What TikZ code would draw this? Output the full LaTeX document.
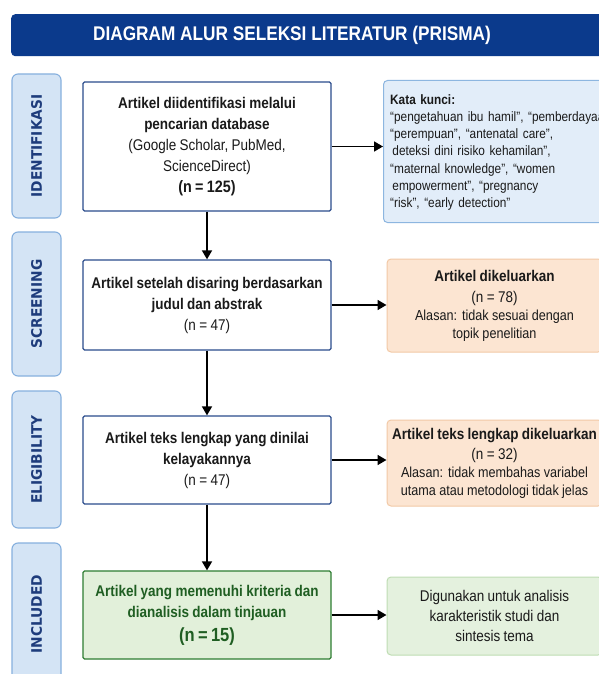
\documentclass[tikz,border=0pt]{standalone}
\usepackage{fontspec}
\setmainfont{Liberation Sans}[FakeStretch=0.87]
\newfontfamily\labelfont{DejaVu Sans}[UprightFont={* Bold}, FakeStretch=0.95]
\usetikzlibrary{arrows.meta}
\definecolor{titleblue}{HTML}{0B3A8C}
\definecolor{lblfill}{HTML}{D4E4F5}
\definecolor{lbldraw}{HTML}{86B0DE}
\definecolor{lbltext}{HTML}{1E3C7C}
\definecolor{boxdraw}{HTML}{2B4C8C}
\definecolor{kwfill}{HTML}{E2EDF9}
\definecolor{kwdraw}{HTML}{8DB6E0}
\definecolor{exfill}{HTML}{FCE5D2}
\definecolor{exdraw}{HTML}{F2C9A6}
\definecolor{grfill}{HTML}{E2F0DA}
\definecolor{grdraw}{HTML}{2E7D32}
\definecolor{grtext}{HTML}{1F5E22}
\definecolor{usefill}{HTML}{E4F1DE}
\definecolor{usedraw}{HTML}{BFDDB3}
\definecolor{txt}{HTML}{1A1A1A}
\tikzset{
  phase/.style={draw=lbldraw, fill=lblfill, line width=1.1pt, rounded corners=6pt,
    rotate=90, minimum height=49pt, inner sep=0pt, text=lbltext,
    font=\labelfont\fontsize{14.5}{14.5}\selectfont},
  mainbox/.style={draw=boxdraw, fill=white, line width=1.3pt, rounded corners=1.5pt,
    minimum width=248pt, text width=244pt, inner sep=2pt, align=center, text=txt},
  sidebox/.style={line width=1pt, rounded corners=4pt, minimum width=215pt, text width=211pt,
    inner sep=2pt, align=center, text=txt},
  arr/.style={-{Triangle[length=9pt,width=10pt]}, line width=1.7pt, black},
}
\begin{document}
\begin{tikzpicture}[x=1pt,y=-1pt]
\useasboundingbox (0,0) rectangle (598,674);
\fill[white] (0,0) rectangle (598,674);
% title
\node (bar) [fill=titleblue, rounded corners=4pt, minimum width=600pt, minimum height=42pt,
  inner sep=0pt, anchor=north west] at (11,14) {};
\node (title) at (292,35.5) [text=white, font=\bfseries\fontsize{19.8}{20}\selectfont]
  {DIAGRAM ALUR SELEKSI LITERATUR (PRISMA)};
% phases
\node (p1) [phase, minimum width=144pt] at (36.5,146) {IDENTIFIKASI};
\node (p2) [phase, minimum width=144pt] at (36.5,304) {SCREENING};
\node (p3) [phase, minimum width=137pt] at (36.5,459.5) {ELIGIBILITY};
\node (p4) [phase, minimum width=142pt] at (36.5,614) {INCLUDED};
% main boxes
\node (b1) [mainbox, minimum height=129pt] at (207,146.5)
  {\fontsize{15.5}{21}\selectfont
   \textbf{Artikel diidentifikasi melalui}\\
   \textbf{pencarian database}\\
   (Google Scholar, PubMed,\\ ScienceDirect)\\
   {\bfseries\fontsize{16.5}{21}\selectfont (n = 125)}\par};
\node (b2) [mainbox, minimum height=90pt] at (207,305)
  {\fontsize{15.5}{21}\selectfont
   \textbf{Artikel setelah disaring berdasarkan}\\
   \textbf{judul dan abstrak}\\
   (n = 47)\par};
\node (b3) [mainbox, minimum height=88pt] at (207,460)
  {\fontsize{15.5}{21}\selectfont
   \textbf{Artikel teks lengkap yang dinilai}\\
   \textbf{kelayakannya}\\
   (n = 47)\par};
\node (b4) [mainbox, draw=grdraw, fill=grfill, text=grtext, minimum height=88pt] at (207,615)
  {\fontsize{15.5}{21}\selectfont
   \textbf{Artikel yang memenuhi kriteria dan}\\
   \textbf{dianalisis dalam tinjauan}\\[3pt]
   {\bfseries\fontsize{19}{21}\selectfont (n = 15)}\par};
% side boxes
\node (r1) [sidebox, draw=kwdraw, fill=kwfill, minimum width=230pt, minimum height=142pt,
  anchor=north west] at (383,80) {};
\node (kw) [anchor=north west, align=left, text width=260pt, inner sep=0pt, text=txt,
  font=\fontsize{13.6}{17.3}\selectfont] at (390,94)
  {\textbf{Kata kunci:}\\
   “pengetahuan ibu hamil”, “pemberdayaan\\
   “perempuan”, “antenatal care”,\\
   \,deteksi dini risiko kehamilan”,\\
   “maternal knowledge”, “women\\
   \,empowerment”, “pregnancy\\
   “risk”, “early detection”\par};
\node (r2) [sidebox, draw=exdraw, fill=exfill, minimum height=93pt] at (494.5,305.5)
  {\fontsize{15.5}{21}\selectfont
   \textbf{Artikel dikeluarkan}\\
   (n = 78)\\
   {\fontsize{14.5}{18}\selectfont Alasan: tidak sesuai dengan\\ topik penelitian\par}};
\node (r3) [sidebox, draw=exdraw, fill=exfill, minimum height=86pt] at (494.5,463)
  {\fontsize{15.5}{20}\selectfont
   \textbf{Artikel teks lengkap dikeluarkan}\\
   (n = 32)\\
   {\fontsize{14.5}{18}\selectfont Alasan: tidak membahas variabel\\ utama atau metodologi tidak jelas\par}};
\node (r4) [sidebox, draw=usedraw, fill=usefill, minimum height=78pt] at (494.5,616)
  {\fontsize{15.5}{20}\selectfont Digunakan untuk analisis\\ karakteristik studi dan\\ sintesis tema\par};
% arrows
\draw[arr] (b1) -- (b2);
\draw[arr] (b2) -- (b3);
\draw[arr] (b3) -- (b4);
\draw[arr] (b1.east) -- (b1.east -| r1.west);
\draw[arr] (b2.east) -- (b2.east -| r2.west);
\draw[arr] (b3.east) -- (b3.east -| r3.west);
\draw[arr] (b4.east) -- (b4.east -| r4.west);
\end{tikzpicture}
\end{document}
